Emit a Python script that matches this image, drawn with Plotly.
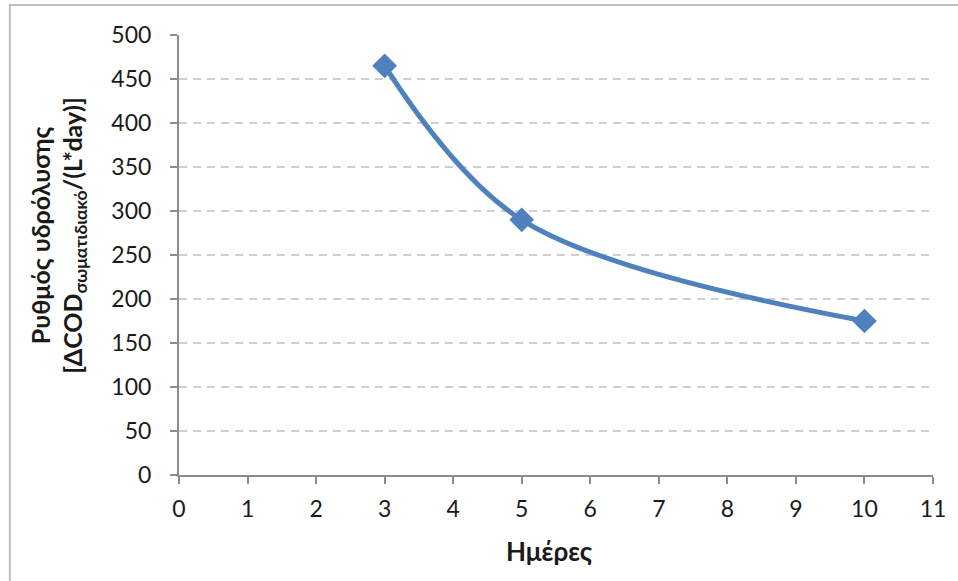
import plotly.graph_objects as go

days = [3, 5, 10]
rate = [465, 290, 175]
x_ticks = list(range(0, 12))
y_ticks = list(range(0, 501, 50))

W, H = 958, 581
L, R, T, B = 179, 21, 35, 106
pw, ph = W - L - R, H - T - B

def px_x(p):
    return (p - L) / pw

def px_y(p):
    return (H - B - p) / ph

fig = go.Figure()
fig.add_trace(go.Scatter(
    x=days, y=rate, mode="lines+markers",
    line=dict(color="#4F81BD", width=5, shape="spline", smoothing=1.0),
    marker=dict(symbol="diamond", size=19, color="#4F81BD"),
    showlegend=False,
))

font_family = "Lato, 'Open Sans', sans-serif"
axis_common = dict(
    ticks="outside", ticklen=7, tickwidth=1.5, tickcolor="#8c8c8c",
    showline=True, linecolor="#8c8c8c", linewidth=2, zeroline=False,
    tickfont=dict(size=23, color="#1a1a1a"),
)
fig.update_layout(
    width=W, height=H,
    margin=dict(l=L, r=R, t=T, b=B),
    paper_bgcolor="white", plot_bgcolor="white",
    font=dict(family=font_family, size=23, color="#1a1a1a"),
    xaxis=dict(range=[0, 11], tickvals=x_ticks, showgrid=False,
               ticklabelstandoff=5, **axis_common),
    yaxis=dict(range=[0, 500], tickvals=y_ticks, showgrid=True,
               gridcolor="#cfcfcf", griddash="8px,6px", gridwidth=1.5,
               ticklabelstandoff=14, **axis_common),
    annotations=[
        dict(text="<b>Ημέρες</b>", xref="paper", yref="paper",
             x=px_x(551), y=px_y(551), showarrow=False,
             font=dict(size=26, color="#1a1a1a"), xanchor="center", yanchor="middle"),
        dict(text="<b>Ρυθμός υδρόλυσης<br>[ΔCOD<sub>σωματιδιακό</sub>/(L*day)]</b>",
             xref="paper", yref="paper", x=px_x(57), y=px_y(236),
             textangle=-90, showarrow=False,
             font=dict(size=25, color="#1a1a1a"), xanchor="center", yanchor="middle"),
    ],
    shapes=[dict(
        type="rect", xref="paper", yref="paper",
        x0=px_x(9), x1=px_x(970),
        y0=px_y(595), y1=px_y(5),
        line=dict(color="#bfbfbf", width=2), layer="below",
    )],
)

fig.write_html("out.html", config={"displayModeBar": False},
               post_script="document.body.style.margin='0';document.body.style.overflow='hidden';")
